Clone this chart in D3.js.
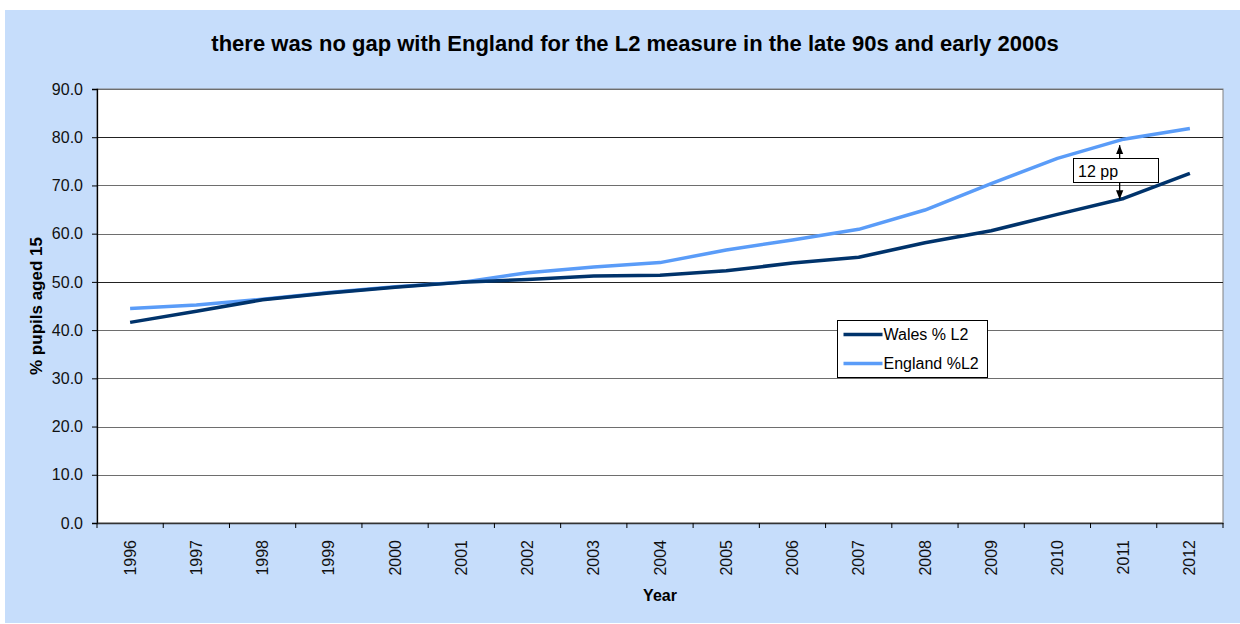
<!DOCTYPE html>
<html>
<head>
<meta charset="utf-8">
<script src="https://cdn.jsdelivr.net/npm/d3@7"></script>
<style>
  body { margin: 0; background: #fff; }
  svg { display: block; font-family: Arial, "Liberation Sans", sans-serif; }
</style>
</head>
<body>
<script>
// chart data
const years = ["1996", "1997", "1998", "1999", "2000", "2001", "2002", "2003", "2004",
  "2005", "2006", "2007", "2008", "2009", "2010", "2011", "2012"];
const wales = [41.6, 43.9, 46.3, 47.7, 48.9, 49.9, 50.5, 51.2, 51.4,
  52.3, 53.9, 55.1, 58.1, 60.6, 64.0, 67.3, 72.5];
const england = [44.5, 45.2, 46.4, 47.8, 49.0, 49.9, 51.9, 53.1, 54.0,
  56.6, 58.7, 60.9, 64.9, 70.4, 75.6, 79.6, 81.8];
const yTicks = [0, 10, 20, 30, 40, 50, 60, 70, 80, 90];
const gapYear = "2011";
const gapLabel = "12 pp";

const width = 1240;
const height = 624;
const margin = { top: 89, right: 17, bottom: 101, left: 97 };

const svg = d3.select("body").append("svg")
  .attr("width", width)
  .attr("height", height);

// outer chart area
svg.append("rect")
  .attr("x", 5).attr("y", 10)
  .attr("width", width - 5).attr("height", 613)
  .attr("fill", "#c6ddfb");

const x = d3.scaleBand()
  .domain(years)
  .range([margin.left, width - margin.right]);

const y = d3.scaleLinear()
  .domain([0, 90])
  .range([height - margin.bottom, margin.top]);

// plot area
svg.append("rect")
  .attr("x", margin.left).attr("y", margin.top)
  .attr("width", width - margin.right - margin.left)
  .attr("height", y(0) - margin.top)
  .attr("fill", "#fff")
  .attr("stroke", "#808080");

// gridlines
svg.append("g")
  .selectAll("line")
  .data(yTicks.filter((d) => d > 0))
  .join("line")
  .attr("x1", margin.left).attr("x2", width - margin.right)
  .attr("y1", (d) => Math.round(y(d)) + 0.5).attr("y2", (d) => Math.round(y(d)) + 0.5)
  .attr("stroke", (d) => (d === 80 || d === 50 ? "#222" : "#6e6e6e"))
  .attr("stroke-width", 1.2);

// y axis
const yAxis = svg.append("g")
  .attr("transform", `translate(${margin.left},0)`)
  .call(d3.axisLeft(y).tickValues(yTicks).tickFormat(d3.format(".1f")).tickSize(5).tickPadding(9));
yAxis.select(".domain").attr("stroke", "#000").attr("stroke-width", 1.3);
yAxis.selectAll(".tick line").attr("stroke", "#000");
yAxis.selectAll("text").attr("font-size", 16).attr("fill", "#111");

// x axis
const xAxis = svg.append("g")
  .attr("transform", `translate(0,${y(0)})`)
  .call(d3.axisBottom(x).tickSize(0).tickSizeOuter(0));
xAxis.select(".domain").attr("stroke", "#333").attr("stroke-width", 1.5);
xAxis.selectAll("text")
  .attr("font-size", 16).attr("fill", "#111")
  .attr("transform", "rotate(-90)")
  .attr("text-anchor", "end")
  .attr("x", -17).attr("y", 0).attr("dy", "0.35em");

// category boundary ticks
xAxis.append("g")
  .selectAll("line")
  .data(years.concat(["end"]))
  .join("line")
  .attr("x1", (d, i) => margin.left + i * x.step())
  .attr("x2", (d, i) => margin.left + i * x.step())
  .attr("y1", 0).attr("y2", 5)
  .attr("stroke", "#000");

// lines
const line = d3.line()
  .x((d, i) => x(years[i]) + x.bandwidth() / 2)
  .y((d) => y(d));

svg.append("path")
  .datum(england)
  .attr("d", line)
  .attr("fill", "none")
  .attr("stroke", "#5a9cf8")
  .attr("stroke-width", 3.5)
  .attr("stroke-linejoin", "round");

svg.append("path")
  .datum(wales)
  .attr("d", line)
  .attr("fill", "none")
  .attr("stroke", "#00336b")
  .attr("stroke-width", 3.5)
  .attr("stroke-linejoin", "round");

// gap annotation
const defs = svg.append("defs");
defs.append("marker")
  .attr("id", "arrow")
  .attr("viewBox", "0 0 10 10")
  .attr("refX", 10).attr("refY", 5)
  .attr("markerWidth", 7).attr("markerHeight", 7)
  .attr("orient", "auto-start-reverse")
  .append("path")
  .attr("d", "M0,1L10,5L0,9Z")
  .attr("fill", "#000");

const gi = years.indexOf(gapYear);
const gx = x(gapYear) + x.bandwidth() / 2 - 4;
svg.append("line")
  .attr("x1", gx).attr("x2", gx)
  .attr("y1", y(england[gi]) + 6).attr("y2", y(wales[gi]) + 1)
  .attr("stroke", "#000")
  .attr("stroke-width", 1.3)
  .attr("marker-start", "url(#arrow)")
  .attr("marker-end", "url(#arrow)");

svg.append("rect")
  .attr("x", 1073.5).attr("y", 158.5)
  .attr("width", 85).attr("height", 24)
  .attr("fill", "#fff")
  .attr("stroke", "#000");
svg.append("text")
  .attr("x", 1078).attr("y", 176.5)
  .attr("font-size", 16)
  .text(gapLabel);

// legend
const legend = svg.append("g").attr("transform", "translate(837.5,320.5)");
legend.append("rect")
  .attr("width", 150).attr("height", 57)
  .attr("fill", "#fff")
  .attr("stroke", "#000");
const items = [
  { name: "Wales % L2", color: "#00336b" },
  { name: "England %L2", color: "#5a9cf8" }
];
const li = legend.selectAll("g.item")
  .data(items)
  .join("g")
  .attr("class", "item")
  .attr("transform", (d, i) => `translate(0,${14 + i * 29})`);
li.append("line")
  .attr("x1", 6).attr("x2", 45)
  .attr("stroke", (d) => d.color)
  .attr("stroke-width", 3.5);
li.append("text")
  .attr("x", 46).attr("dy", "0.35em")
  .attr("font-size", 16)
  .text((d) => d.name);

// titles
svg.append("text")
  .attr("x", 635).attr("y", 51)
  .attr("text-anchor", "middle")
  .attr("font-size", 22).attr("font-weight", "bold")
  .text("there was no gap with England for the L2 measure in the late 90s and early 2000s");

svg.append("text")
  .attr("transform", `translate(42,${(margin.top + y(0)) / 2}) rotate(-90)`)
  .attr("text-anchor", "middle")
  .attr("font-size", 17).attr("font-weight", "bold")
  .text("% pupils aged 15");

svg.append("text")
  .attr("x", 660).attr("y", 601)
  .attr("text-anchor", "middle")
  .attr("font-size", 16).attr("font-weight", "bold")
  .text("Year");
</script>
</body>
</html>
